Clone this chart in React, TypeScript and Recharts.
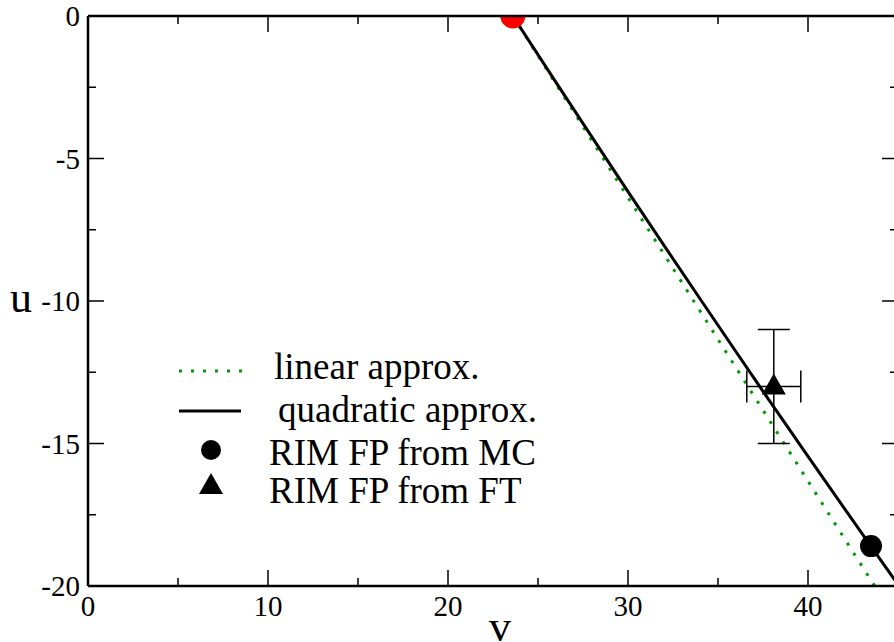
import React from 'react';
import {
  ComposedChart, Line, Scatter, XAxis, YAxis, ErrorBar, Label,
} from 'recharts';

// v ticks (every 5, labelled every 10) and u ticks (every 2.5, labelled every 5)
const vTicks = [0, 5, 10, 15, 20, 25, 30, 35, 40, 45];
const uTicks = [-20, -17.5, -15, -12.5, -10, -7.5, -5, -2.5, 0];

// curves
const linearApprox = [
  { v: 23.6, u: 0 },
  { v: 43.7, u: -20 },
];
const quadraticApprox = [
  { v: 23.6, u: 0 },
  { v: 26, u: -2.33 },
  { v: 28, u: -4.25 },
  { v: 30, u: -6.16 },
  { v: 32, u: -8.05 },
  { v: 34, u: -9.92 },
  { v: 36, u: -11.78 },
  { v: 38, u: -13.63 },
  { v: 40, u: -15.45 },
  { v: 42, u: -17.26 },
  { v: 44, u: -19.06 },
  { v: 45, u: -19.95 },
];

// fixed points
const gaussianFP = [{ v: 23.6, u: 0 }];
const rimFromMC = [{ v: 43.5, u: -18.6 }];
const rimFromFT = [{ v: 38.1, u: -13, ex: 1.5, ey: 2 }];

const FONT = '"Liberation Serif", "Times New Roman", serif';
const GREEN = '#009a00';
const tickText = { fontFamily: FONT, fontSize: 29, fill: '#000' };
const titleText = { fontFamily: FONT, fontSize: 44, fill: '#000' };

const isMajorV = (v: number) => v % 10 === 0;
const isMajorU = (u: number) => u % 5 === 0;

const BottomTick = (props: any) => {
  const { x, y, payload } = props;
  const major = isMajorV(payload.value);
  return (
    <g>
      <line x1={x} y1={y} x2={x} y2={y - (major ? 16 : 8)} stroke="#000" strokeWidth={1.5} />
      {major && (
        <text x={x} y={y + 30} textAnchor="middle" style={tickText}>
          {payload.value}
        </text>
      )}
    </g>
  );
};

const TopTick = (props: any) => {
  const { x, y, payload } = props;
  const major = isMajorV(payload.value);
  return <line x1={x} y1={y} x2={x} y2={y + (major ? 16 : 8)} stroke="#000" strokeWidth={1.5} />;
};

const LeftTick = (props: any) => {
  const { x, y, payload } = props;
  const major = isMajorU(payload.value);
  return (
    <g>
      <line x1={x} y1={y} x2={x + (major ? 16 : 8)} y2={y} stroke="#000" strokeWidth={1.5} />
      {major && (
        <text x={x - 8} y={y + 10} textAnchor="end" style={tickText}>
          {payload.value}
        </text>
      )}
    </g>
  );
};

const RightTick = (props: any) => {
  const { x, y, payload } = props;
  const major = isMajorU(payload.value);
  return <line x1={x} y1={y} x2={x - (major ? 16 : 8)} y2={y} stroke="#000" strokeWidth={1.5} />;
};

// the red point sits on the top frame; the frame line shows through it
const RedDot = (props: any) => (
  <g>
    <circle cx={props.cx} cy={props.cy} r={12.5} fill="#ff0000" />
    <line x1={props.cx - 13} y1={props.cy} x2={props.cx + 13} y2={props.cy} stroke="#000" strokeWidth={2.5} />
  </g>
);
const BlackDot = (props: any) => <circle cx={props.cx} cy={props.cy} r={11} fill="#000" />;
const Triangle = (props: any) => {
  const { cx, cy } = props;
  return <path d={`M${cx},${cy - 13} L${cx + 12},${cy + 8} L${cx - 12},${cy + 8} Z`} fill="#000" />;
};

const LegendBox = () => (
  <svg width={420} height={180} style={{ position: 'absolute', left: 160, top: 340, display: 'block' }}>
    <g style={{ fontFamily: FONT, fontSize: 37, fill: '#000' }}>
      <line x1={19} y1={31} x2={82} y2={31} stroke={GREEN} strokeWidth={3} strokeDasharray="3 9" />
      <text x={114} y={39}>linear approx.</text>
      <line x1={19} y1={71} x2={81} y2={71} stroke="#000" strokeWidth={3} />
      <text x={118} y={82}>quadratic approx.</text>
      <circle cx={51} cy={110} r={10} fill="#000" />
      <text x={109} y={125}>RIM FP from MC</text>
      <path d="M51,133 L63,154 L39,154 Z" fill="#000" />
      <text x={109} y={163}>RIM FP from FT</text>
    </g>
  </svg>
);

export default function App() {
  return (
    <div style={{ position: 'fixed', left: 0, top: 0, width: 894, height: 642, overflow: 'hidden', background: '#fff' }}>
      <ComposedChart width={910} height={642} margin={{ top: 0, right: 0, bottom: 0, left: 0 }}>
        <XAxis
          xAxisId="bottom"
          dataKey="v"
          type="number"
          domain={[0, 45]}
          ticks={vTicks}
          interval={0}
          allowDataOverflow
          orientation="bottom"
          height={56}
          tickSize={0}
          tickMargin={0}
          tickLine={false}
          tick={<BottomTick />}
          axisLine={{ stroke: '#000', strokeWidth: 2.5 }}
        >
          <Label
            content={() => (
              <text x={500} y={641} textAnchor="middle" style={titleText}>v</text>
            )}
          />
        </XAxis>
        <XAxis
          xAxisId="top"
          dataKey="v"
          type="number"
          domain={[0, 45]}
          ticks={vTicks}
          interval={0}
          allowDataOverflow
          orientation="top"
          height={16}
          tickSize={0}
          tickMargin={0}
          tickLine={false}
          tick={<TopTick />}
          axisLine={{ stroke: '#000', strokeWidth: 2.5 }}
        />
        <YAxis
          yAxisId="left"
          type="number"
          domain={[-20, 0]}
          ticks={uTicks}
          interval={0}
          allowDataOverflow
          orientation="left"
          width={88}
          tickSize={0}
          tickMargin={0}
          tickLine={false}
          tick={<LeftTick />}
          axisLine={{ stroke: '#000', strokeWidth: 2.5 }}
        >
          <Label
            content={() => (
              <text x={21} y={312} textAnchor="middle" style={titleText}>u</text>
            )}
          />
        </YAxis>
        <YAxis
          yAxisId="right"
          type="number"
          domain={[-20, 0]}
          ticks={uTicks}
          interval={0}
          allowDataOverflow
          orientation="right"
          width={12}
          tickSize={0}
          tickMargin={0}
          tickLine={false}
          tick={<RightTick />}
          axisLine={{ stroke: '#000', strokeWidth: 2.5 }}
        />
        <Scatter
          xAxisId="bottom"
          yAxisId="left"
          data={gaussianFP}
          dataKey="u"
          shape={<RedDot />}
          isAnimationActive={false}
        />
        <Line
          xAxisId="bottom"
          yAxisId="left"
          data={linearApprox}
          dataKey="u"
          type="linear"
          stroke={GREEN}
          strokeWidth={3}
          strokeDasharray="3 9"
          dot={false}
          activeDot={false}
          isAnimationActive={false}
        />
        <Line
          xAxisId="bottom"
          yAxisId="left"
          data={quadraticApprox}
          dataKey="u"
          type="linear"
          stroke="#000"
          strokeWidth={3}
          dot={false}
          activeDot={false}
          isAnimationActive={false}
        />
        <Scatter
          xAxisId="bottom"
          yAxisId="left"
          data={rimFromMC}
          dataKey="u"
          shape={<BlackDot />}
          isAnimationActive={false}
        />
        <Scatter
          xAxisId="bottom"
          yAxisId="left"
          data={rimFromFT}
          dataKey="u"
          shape={<Triangle />}
          isAnimationActive={false}
        >
          <ErrorBar dataKey="ey" direction="y" width={16} stroke="#000" strokeWidth={1.5} />
          <ErrorBar dataKey="ex" direction="x" width={16} stroke="#000" strokeWidth={1.5} />
        </Scatter>
      </ComposedChart>
      <LegendBox />
    </div>
  );
}
